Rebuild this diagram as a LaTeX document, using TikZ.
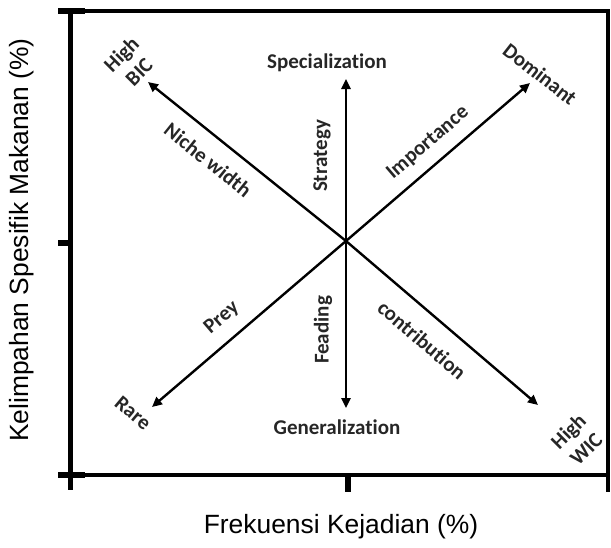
\documentclass[tikz,border=0pt]{standalone}
\usepackage{fontspec}
\setmainfont{Liberation Sans}
\newfontfamily\calfont[Ligatures=NoCommon]{Carlito}
\usetikzlibrary{arrows.meta, positioning}

\begin{document}
\begin{tikzpicture}[x=0.5pt, y=-0.5pt,
  frame/.style={line width=1.6pt},
  axis/.style={line width=2.5pt},
  tickmark/.style={line width=3pt},
  arr/.style={-{Triangle[length=5pt, width=4.6pt]}, line width=1.2pt},
  lbl/.style={font=\calfont\bfseries\fontsize{10.5}{12.5}\selectfont, text=black!85, inner sep=1pt, align=center},
  axlabel/.style={font=\fontsize{13.2}{15}\selectfont, inner sep=0pt},
]
\useasboundingbox (0,0) rectangle (611,547);

% Frame and axes
\draw[frame] (70,11) -- (608,11) -- (608,492);
\draw[frame] (70,475) -- (608,475);
\draw[axis] (70,9) -- (70,490);
\draw[tickmark] (58,11) -- (85,11);
\draw[tickmark] (58,243) -- (70,243);
\draw[tickmark] (58,475) -- (85,475);
\draw[tickmark] (348,475) -- (348,492);

% Axis titles
\node[axlabel] (xlab) at (341,527) {Frekuensi Kejadian (\%)};
\node[axlabel, rotate=90] (ylab) at (22,240) {Kelimpahan Spesifik Makanan (\%)};

% Centre and arrow ends
\coordinate (c)  at (346,241);
\coordinate (up) at (346,79);
\coordinate (dn) at (346,408);
\coordinate (nw) at (148,82);
\coordinate (ne) at (530,83);
\coordinate (sw) at (152,407);
\coordinate (se) at (538,405);

\draw[arr] (c) -- (up);
\draw[arr] (c) -- (dn);
\draw[arr] (c) -- (nw);
\draw[arr] (c) -- (ne);
\draw[arr] (c) -- (sw);
\draw[arr] (c) -- (se);

% End labels
\node[lbl] (spec)     at (327,63)  {Specialization};
\node[lbl] (gen)      at (337,427) {Generalization};
\node[lbl, rotate=45] (highbic) at (130,63)  {High\\BIC};
\node[lbl, rotate=-38] (dom)    at (540,74)  {Dominant};
\node[lbl, rotate=-40] (rare)   at (133,413) {Rare};
\node[lbl, rotate=45] (highwic) at (577,440) {High\\WIC};

% Arrow labels
\node[lbl, rotate=90]    (strat)   at (322,156) {Strategy};
\node[lbl, rotate=90]    (feed)    at (323,330) {Feading};
\node[lbl, rotate=-38.8] (niche)   at (208,160) {Niche width};
\node[lbl, rotate=40.6]  (imp)     at (428,143) {Importance};
\node[lbl, rotate=40.6]  (prey)    at (222,318) {Prey};
\node[lbl, rotate=-40.5] (contrib) at (422,340) {contribution};

\end{tikzpicture}
\end{document}
